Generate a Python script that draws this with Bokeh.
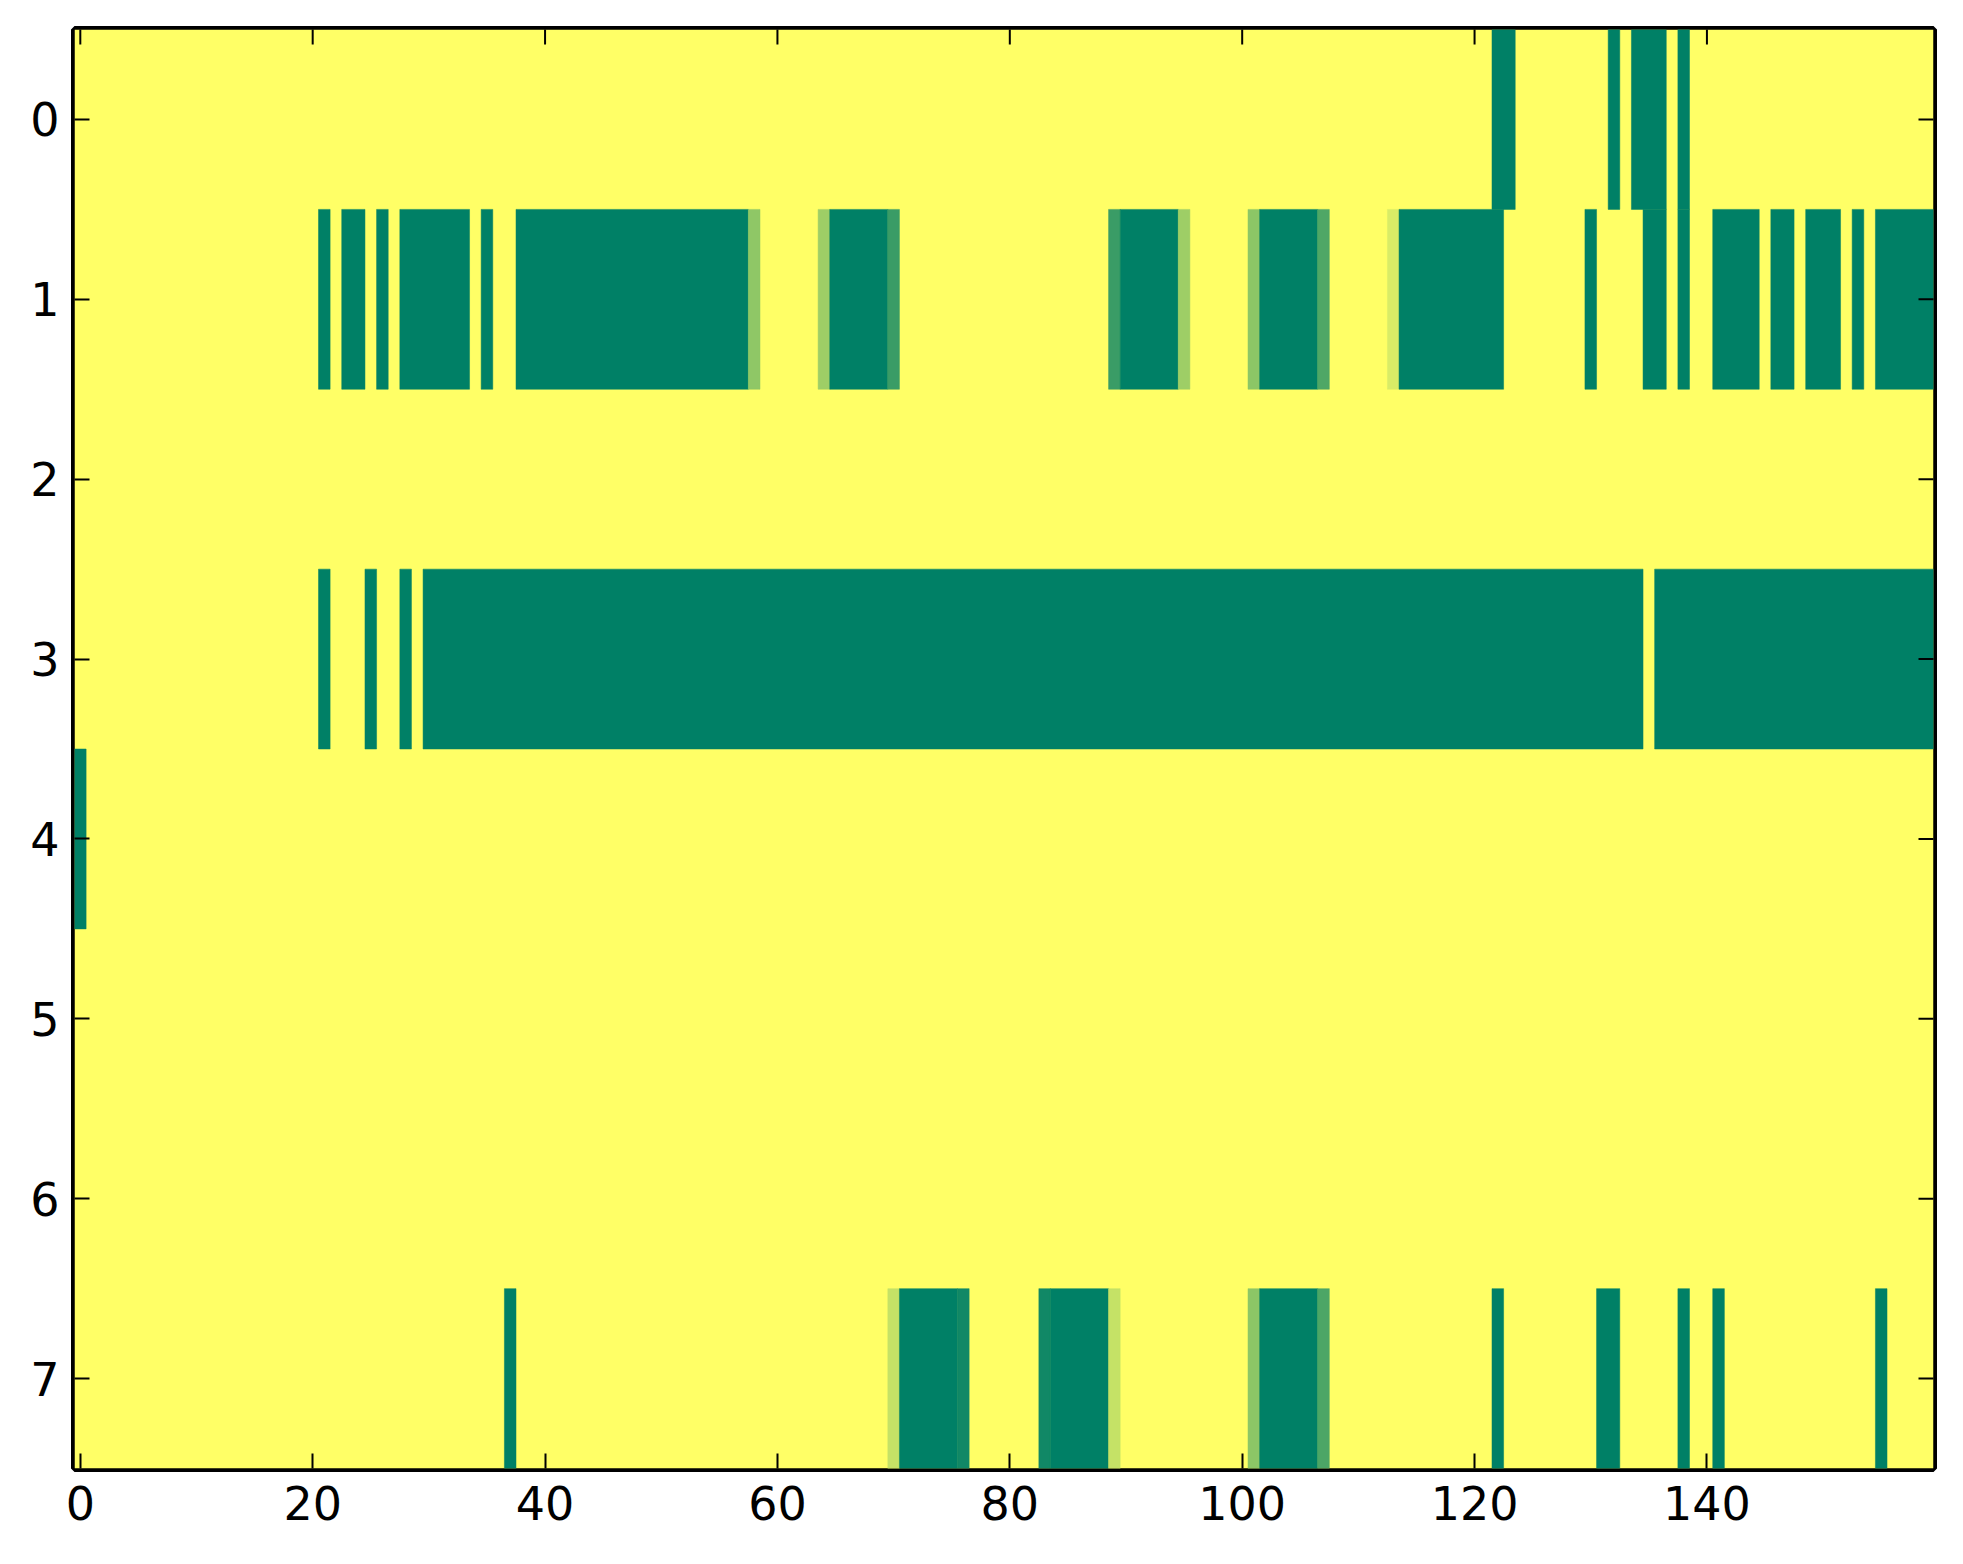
import math
from bokeh.plotting import figure
from bokeh.models import Range1d, FixedTicker, ColumnDataSource
from bokeh.transform import linear_cmap
from bokeh.embed import file_html
from bokeh.resources import INLINE

# ---- data: runs of (first column, last column, value) per row; other cells are 0 ----
n_rows = 8
n_cols = 160
row0_runs = [(122, 123, 1.0), (132, 132, 1.0), (134, 136, 1.0), (138, 138, 1.0)]
row1_runs = [(21, 21, 1.0), (23, 24, 1.0), (26, 26, 1.0), (28, 33, 1.0), (35, 35, 1.0),
             (38, 57, 1.0), (58, 58, 0.44), (64, 64, 0.38), (65, 69, 1.0), (70, 70, 0.77),
             (89, 89, 0.77), (90, 94, 1.0), (95, 95, 0.38), (101, 101, 0.45), (102, 106, 1.0),
             (107, 107, 0.69), (113, 113, 0.15), (114, 122, 1.0), (130, 130, 1.0),
             (135, 136, 1.0), (138, 138, 1.0), (141, 144, 1.0), (146, 147, 1.0),
             (149, 151, 1.0), (153, 153, 1.0), (155, 159, 1.0)]
row2_runs = []
row3_runs = [(21, 21, 1.0), (25, 25, 1.0), (28, 28, 1.0), (30, 134, 1.0), (136, 159, 1.0)]
row4_runs = [(0, 0, 1.0)]
row5_runs = []
row6_runs = []
row7_runs = [(37, 37, 1.0), (70, 70, 0.23), (71, 75, 1.0), (76, 76, 0.93), (83, 83, 0.93),
             (84, 88, 1.0), (89, 89, 0.23), (101, 101, 0.45), (102, 106, 1.0), (107, 107, 0.70),
             (122, 122, 1.0), (131, 132, 1.0), (138, 138, 1.0), (141, 141, 1.0), (155, 155, 1.0)]
x_ticks = [0, 20, 40, 60, 80, 100, 120, 140]
y_ticks = [0, 1, 2, 3, 4, 5, 6, 7]

all_runs = [row0_runs, row1_runs, row2_runs, row3_runs, row4_runs, row5_runs, row6_runs, row7_runs]

# background: all cells at value 0 (one block covering the whole matrix)
bg_src = ColumnDataSource(dict(x=[(n_cols - 1) / 2.0], y=[(n_rows - 1) / 2.0],
                               w=[n_cols], h=[n_rows], v=[0.0]))

# non-zero runs drawn on top
xs, ys, ws, vs = [], [], [], []
for r, runs in enumerate(all_runs):
    for a, b, v in runs:
        xs.append((a + b) / 2.0)
        ys.append(r)
        ws.append(b - a + 1)
        vs.append(v)
src = ColumnDataSource(dict(x=xs, y=ys, w=ws, v=vs))

# summer_r colormap
palette = []
for i in range(256):
    t = i / 255.0
    rr = int(round((1 - t) * 255))
    gg = int(round((1 - t / 2) * 255))
    bb = int(round(0.4 * 255))
    palette.append("#%02x%02x%02x" % (rr, gg, bb))

FONT = "DejaVu Sans"
FS = "46px"

p = figure(width=1955, height=1548, output_backend="svg", toolbar_location=None,
           x_range=Range1d(-0.5, n_cols - 0.5), y_range=Range1d(n_rows - 0.5, -0.5),
           min_border_left=74, min_border_right=22, min_border_top=29, min_border_bottom=80)
p.background_fill_color = "white"
p.border_fill_color = "white"
p.grid.visible = False

cmap = linear_cmap("v", palette, 0, 1)
p.rect(x="x", y="y", width="w", height="h", source=bg_src, fill_color=cmap, line_color=None)
p.rect(x="x", y="y", width="w", height=1, source=src, fill_color=cmap, line_color=cmap,
       line_width=0.5)

p.outline_line_color = "black"
p.outline_line_width = 7
p.outline_line_alpha = 1.0

for ax, ticks in ((p.xaxis[0], x_ticks), (p.yaxis[0], y_ticks)):
    ax.ticker = FixedTicker(ticks=ticks)
    ax.axis_line_color = None
    ax.major_tick_in = 15
    ax.major_tick_out = 0
    ax.major_tick_line_color = "black"
    ax.major_tick_line_width = 2
    ax.minor_tick_line_color = None
    ax.major_label_text_font = FONT
    ax.major_label_text_font_size = FS
    ax.major_label_text_color = "black"
p.xaxis[0].major_label_standoff = 17
p.yaxis[0].major_label_standoff = 15

# inward tick marks on the top and right spines (half of each dash is clipped by the frame)
p.scatter(x=x_ticks, y=[-0.5] * len(x_ticks), marker="dash", size=30, angle=math.pi / 2,
          line_color="black", line_width=2)
p.scatter(x=[n_cols - 0.5] * len(y_ticks), y=y_ticks, marker="dash", size=30,
          line_color="black", line_width=2)

open("out.html", "w").write(file_html(p, INLINE))
